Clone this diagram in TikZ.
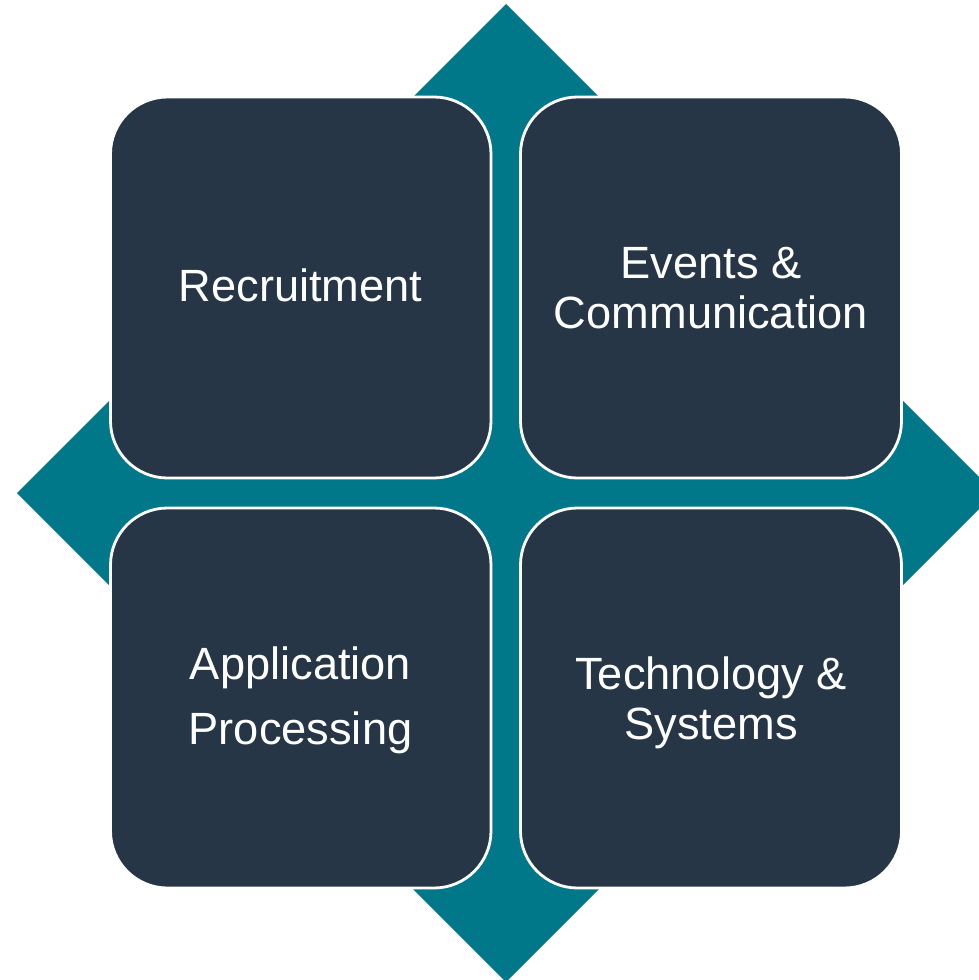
\documentclass[tikz,border=0pt]{standalone}
\usepackage{fontspec}
\setmainfont{Liberation Sans}
\definecolor{teal1}{HTML}{00788A}
\definecolor{navy1}{HTML}{263646}
\begin{document}
\begin{tikzpicture}[x=1pt,y=-1pt,
  quad/.style={draw=white, line width=2.8pt, fill=navy1, rounded corners=57pt},
  lbl/.style={text=white, font=\fontsize{45.2}{50}\selectfont, align=center}]
\useasboundingbox (0,0) rectangle (979,980);
\fill[teal1] (506,4) -- (995,493) -- (506,982) -- (17,493) -- cycle;
\draw[quad] (110.5,97) rectangle (491,478);
\draw[quad] (520.5,97) rectangle (901.5,478);
\draw[quad] (110.5,508) rectangle (491,888);
\draw[quad] (520.5,508) rectangle (901.5,888);
\node[lbl] (a) at (300.5,285.5) {Recruitment};
\node[lbl] (b) at (711,288) {Events \&\\Communication};
\node[lbl, font=\fontsize{45.2}{65}\selectfont] (c) at (300.5,700) {Application\\Processing};
\node[lbl] (d) at (711,703) {Technology \&\\Systems};
\end{tikzpicture}
\end{document}
